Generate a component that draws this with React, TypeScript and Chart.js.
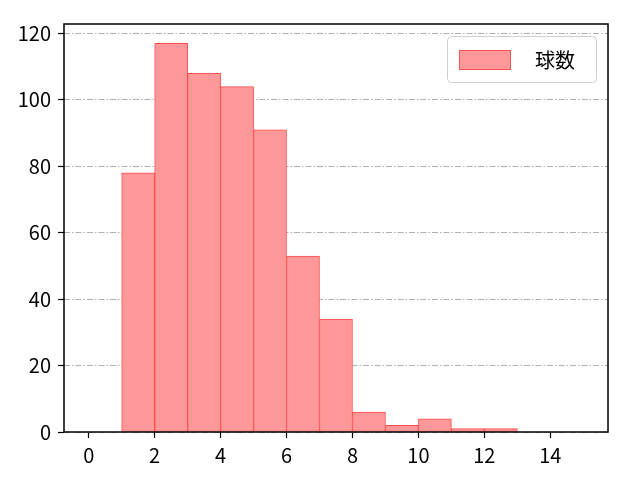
import React, { useEffect, useRef } from "react";
import { Chart, registerables } from "chart.js";

Chart.register(...registerables);

const binStarts = [1, 2, 3, 4, 5, 6, 7, 8, 9, 10, 11, 12];
const counts = [78, 117, 108, 104, 91, 53, 34, 6, 2, 4, 1, 1];
const seriesLabel = "球数";
const xTicks = [0, 2, 4, 6, 8, 10, 12, 14];
const yTicks = [0, 20, 40, 60, 80, 100, 120];

const FONT = "'Noto Sans CJK JP', 'DejaVu Sans', sans-serif";

export default function App() {
  const ref = useRef<HTMLCanvasElement | null>(null);
  useEffect(() => {
    if (!ref.current) return;
    const frame = {
      id: "frame",
      afterDraw(chart: any) {
        const { ctx, chartArea: a } = chart;
        ctx.save();
        ctx.strokeStyle = "#000";
        ctx.lineWidth = 1.5;
        ctx.strokeRect(a.left, a.top, a.right - a.left, a.bottom - a.top);
        // legend
        const bx = a.right - 161, by = a.top + 12, bw = 149, bh = 46;
        ctx.fillStyle = "rgba(255,255,255,0.8)";
        ctx.strokeStyle = "#d0d0d0";
        ctx.lineWidth = 1;
        ctx.beginPath();
        (ctx as any).roundRect(bx + 0.5, by + 0.5, bw, bh, 4);
        ctx.fill();
        ctx.stroke();
        ctx.fillStyle = "#ff9999";
        ctx.strokeStyle = "#ff5050";
        ctx.fillRect(bx + 12, by + 14, 52, 20);
        ctx.strokeRect(bx + 12.5, by + 14.5, 51, 19);
        ctx.fillStyle = "#000";
        ctx.font = `20px ${FONT}`;
        ctx.textBaseline = "middle";
        ctx.textAlign = "left";
        ctx.fillText(seriesLabel, bx + 88, by + 24);
        ctx.restore();
      },
    };
    const chart = new Chart(ref.current, {
      type: "bar",
      data: {
        datasets: [
          {
            label: seriesLabel,
            data: binStarts.map((s, i) => ({ x: s + 0.5, y: counts[i] })),
            backgroundColor: "#ff9999",
            borderColor: "#ff4c4c",
            borderWidth: 1,
            barPercentage: 1,
            categoryPercentage: 1,
            borderSkipped: false,
          },
        ],
      },
      options: {
        animation: false,
        responsive: false,
        maintainAspectRatio: false,
        layout: { padding: { left: 0, right: 32, top: 24, bottom: 0 } },
        plugins: { legend: { display: false }, tooltip: { enabled: false } },
        scales: {
          x: {
            type: "linear",
            offset: false,
            min: -0.75,
            max: 15.75,
            afterBuildTicks: (s: any) => {
              s.ticks = xTicks.map((v) => ({ value: v }));
            },
            afterFit: (s: any) => {
              s.height = 48;
            },
            grid: {
              offset: false,
              drawOnChartArea: false,
              drawTicks: true,
              tickLength: 6,
              tickColor: "#000",
              tickWidth: 1.2,
            },
            border: { display: false },
            ticks: {
              color: "#000",
              font: { family: FONT, size: 20 },
              padding: 5,
              maxRotation: 0,
              autoSkip: false,
            },
          },
          y: {
            type: "linear",
            min: 0,
            max: 122.85,
            afterBuildTicks: (s: any) => {
              s.ticks = yTicks.map((v) => ({ value: v }));
            },
            afterFit: (s: any) => {
              s.width = 64;
            },
            grid: {
              drawOnChartArea: true,
              color: "#b0b0b0",
              lineWidth: 1,
              drawTicks: true,
              tickLength: 6,
              tickColor: "#000",
              tickWidth: 1.2,
              tickBorderDash: [],
            },
            border: { display: false, dash: [6, 2, 1.5, 2] },
            ticks: {
              color: "#000",
              font: { family: FONT, size: 20 },
              padding: 7,
              autoSkip: false,
            },
          },
        },
      },
      plugins: [frame],
    } as any);
    return () => chart.destroy();
  }, []);
  return (
    <div style={{ position: "fixed", left: 0, top: 0, width: 640, height: 480, background: "#fff" }}>
      <canvas ref={ref} width={640} height={480} style={{ width: 640, height: 480 }} />
    </div>
  );
}
